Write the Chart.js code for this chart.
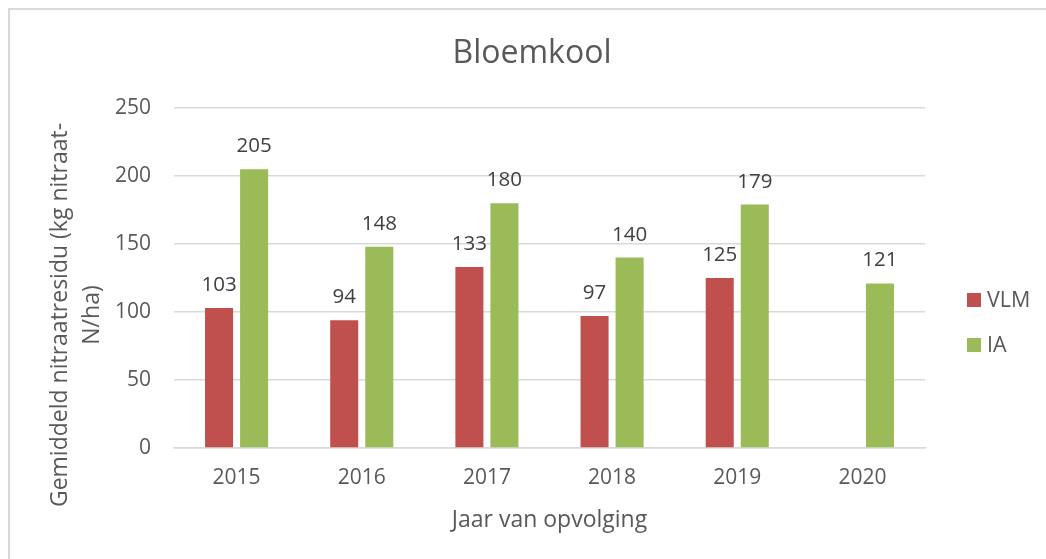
<!DOCTYPE html>
<html>
<head>
<meta charset="utf-8">
<script src="https://cdn.jsdelivr.net/npm/chart.js@4"></script>
<style>
  html, body { margin: 0; padding: 0; background: #fff; }
  #wrap { width: 1046px; height: 559px; position: relative; }
</style>
</head>
<body>
<div id="wrap"><canvas id="c" width="1046" height="559"></canvas></div>
<script>
const categories = ["2015", "2016", "2017", "2018", "2019", "2020"];
const vlmValues = [103, 94, 133, 97, 125, null];
const iaValues = [205, 148, 180, 140, 179, 121];
const seriesNames = ["VLM", "IA"];
const yTicks = [0, 50, 100, 150, 200, 250];
const chartTitle = "Bloemkool";
const yTitleLines = ["Gemiddeld nitraatresidu (kg nitraat-", "N/ha)"];
const xTitle = "Jaar van opvolging";

const FONT = "'Open Sans', 'Liberation Sans', sans-serif";
const TEXT = "#595959";
const COLORS = ["#C0504D", "#9BBB59"];

const frame = {
  id: 'frame',
  beforeDraw(chart) {
    const ctx = chart.ctx;
    ctx.save();
    ctx.fillStyle = '#fff';
    ctx.fillRect(0, 0, chart.width, chart.height);
    ctx.strokeStyle = '#d9d9d9';
    ctx.lineWidth = 2;
    ctx.strokeRect(9, 9, chart.width + 20, chart.height + 20);
    ctx.restore();
  }
};

const labels = {
  id: 'labels',
  afterDatasetsDraw(chart) {
    const ctx = chart.ctx;
    ctx.save();
    ctx.font = "20.5px " + FONT;
    ctx.fillStyle = "#404040";
    ctx.textAlign = 'center';
    ctx.textBaseline = 'alphabetic';
    chart.data.datasets.forEach((ds, i) => {
      const meta = chart.getDatasetMeta(i);
      meta.data.forEach((el, j) => {
        const v = ds.data[j];
        if (v === null || v === undefined) return;
        ctx.fillText(String(v), el.x, el.y - 17);
      });
    });
    ctx.restore();
  }
};

const extras = {
  id: 'extras',
  afterDraw(chart) {
    const ctx = chart.ctx;
    ctx.save();
    ctx.fillStyle = TEXT;
    // chart title
    ctx.font = "32px " + FONT;
    ctx.textAlign = 'center';
    ctx.textBaseline = 'middle';
    ctx.fillText(chartTitle, 532, 54);
    // y-axis title
    ctx.font = "23px " + FONT;
    const cy = 315;
    yTitleLines.forEach((line, i) => {
      ctx.save();
      ctx.translate(60 + i * 32, cy);
      ctx.rotate(-Math.PI / 2);
      ctx.fillText(line, 0, 0);
      ctx.restore();
    });
    // legend
    ctx.font = "21.5px " + FONT;
    ctx.textAlign = 'left';
    const lx = 967, ly = [300, 345];
    chart.data.datasets.forEach((ds, i) => {
      ctx.fillStyle = ds.backgroundColor;
      ctx.fillRect(lx, ly[i] - 7, 14, 14);
      ctx.fillStyle = TEXT;
      ctx.fillText(ds.label, lx + 20, ly[i] + 1);
    });
    ctx.restore();
  }
};

new Chart(document.getElementById('c'), {
  type: 'bar',
  data: {
    labels: categories,
    datasets: [
      { label: seriesNames[0], data: vlmValues, backgroundColor: COLORS[0] },
      { label: seriesNames[1], data: iaValues, backgroundColor: COLORS[1] }
    ]
  },
  options: {
    responsive: false,
    animation: false,
    devicePixelRatio: 1,
    categoryPercentage: 0.56,
    barPercentage: 0.8,
    layout: { padding: { left: 0, right: 121, top: 108, bottom: 0 } },
    plugins: {
      legend: { display: false },
      tooltip: { enabled: false },
      title: { display: false }
    },
    scales: {
      x: {
        grid: { display: false, drawTicks: false },
        border: { display: true, color: '#d9d9d9', width: 1.5 },
        ticks: { color: TEXT, font: { family: FONT, size: 21 }, padding: 17 },
        title: {
          display: true,
          text: xTitle,
          color: TEXT,
          font: { family: FONT, size: 23, lineHeight: 1.2 },
          padding: { top: 0, bottom: 25 }
        },
        afterFit(scale) { scale.height = 111; }
      },
      y: {
        min: 0,
        max: 250,
        afterBuildTicks(scale) { scale.ticks = yTicks.map(v => ({ value: v })); },
        grid: { color: '#d9d9d9', lineWidth: 1.5, drawTicks: false },
        border: { display: false },
        ticks: { color: TEXT, font: { family: FONT, size: 21 }, padding: 23 },
        afterFit(scale) { scale.width = 174; }
      }
    }
  },
  plugins: [frame, labels, extras]
});
</script>
</body>
</html>
